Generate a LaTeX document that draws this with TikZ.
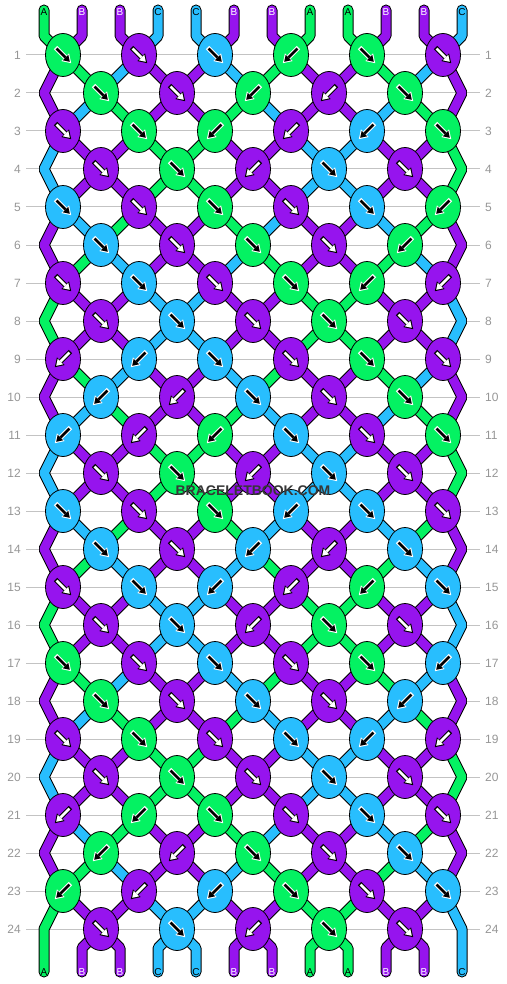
\documentclass[tikz,border=0pt]{standalone}
\usepackage{fontspec}
\setmainfont{Liberation Sans}
\usetikzlibrary{shapes.geometric,arrows.meta}

\definecolor{strA}{RGB}{4,242,98}
\definecolor{strB}{RGB}{150,20,238}
\definecolor{strC}{RGB}{40,190,254}
\colorlet{inkA}{black}\colorlet{inkB}{white}\colorlet{inkC}{black}
\colorlet{rimA}{white}\colorlet{rimB}{black}\colorlet{rimC}{white}
\definecolor{rowgray}{RGB}{150,150,150}
\definecolor{linegray}{RGB}{195,195,195}
\definecolor{markgray}{RGB}{55,55,55}

\pgfdeclarelayer{grid}
\pgfdeclarelayer{strands}
\pgfsetlayers{grid,strands,main}

% colour letter of the string lying at position #1
\newcommand\strcol[1]{\csname st#1\endcsname}
\newcommand\setstr[2]{\expandafter\xdef\csname st#1\endcsname{#2}}

\tikzset{
  knot/.style={ellipse, draw=black, line width=0.8pt, minimum width=35pt,
    minimum height=43pt, inner sep=0pt},
  strand/.style={draw=black, line width=1pt, double=str#1, double distance=9pt,
    line join=bevel, line cap=round},
  arrowrim/.style={draw=rim#1, line width=4.8pt,
    -{Triangle[width=11pt,length=8.5pt,line width=0pt]}},
  arrowink/.style={draw=ink#1, line width=2.6pt,
    -{Triangle[width=7.8pt,length=6pt,line width=0pt]}},
  rowlabel/.style={text=rowgray, font=\fontsize{12}{12}\selectfont, inner sep=0pt},
  endlabel/.style={text=ink#1, font=\fontsize{10}{10}\selectfont, inner sep=0pt},
  watermark/.style={text=markgray, font=\bfseries\fontsize{14}{14}\selectfont, inner sep=0pt}
}

\begin{document}
\begin{tikzpicture}[x=1pt, y=-1pt]
\useasboundingbox (0,0) rectangle (506,984);

% loose ends at the top, in start order
\foreach \col [count=\p from 0] in {A,B,B,C,C,B,B,A,A,B,B,C} {
  \setstr{\p}{\col}
  \coordinate (top-\p) at (44+38*\p,10);
  \coordinate (topbend-\p) at (44+38*\p,36);
  \node[endlabel=\col] (toplab-\p) at (44+38*\p,12.5) {\col};
}

% rows of knots: 0 = forward, 1 = backward
\foreach \row/\dirs in {1/{0,0,0,1,0,0}, 2/{0,0,1,1,0}, 3/{0,0,1,1,1,0}, 4/{0,0,1,0,0},
    5/{0,0,0,0,0,1}, 6/{0,0,0,0,1}, 7/{0,0,0,0,1,1}, 8/{0,0,0,0,0},
    9/{1,1,0,0,0,0}, 10/{1,1,0,0,0}, 11/{1,1,1,0,0,0}, 12/{0,0,1,0,0},
    13/{0,0,0,1,0,0}, 14/{0,0,1,1,0}, 15/{0,0,1,1,1,0}, 16/{0,0,1,0,0},
    17/{0,0,0,0,0,1}, 18/{0,0,0,0,1}, 19/{0,0,0,0,1,1}, 20/{0,0,0,0,0},
    21/{1,1,0,0,0,0}, 22/{1,1,0,0,0}, 23/{1,1,1,0,0,0}, 24/{0,0,1,0,0}} {
  \pgfmathtruncatemacro\ky{17+38*\row}
  \pgfmathtruncatemacro\odd{mod(\row,2)}
  \pgfmathtruncatemacro\prev{\row-1}
  \pgfmathtruncatemacro\pprev{\row-2}
  \begin{pgfonlayer}{grid}
    \draw[linegray, line width=1pt] (26,\ky) -- (480,\ky);
  \end{pgfonlayer}
  \node[rowlabel, anchor=east] (rowl-\row) at (21,\ky) {\row};
  \node[rowlabel, anchor=west] (rowr-\row) at (485,\ky) {\row};
  \ifnum\odd=0
    \coordinate (edgel-\row) at (44,\ky);
    \coordinate (edger-\row) at (462,\ky);
  \fi
  \foreach \dir [count=\j from 0] in \dirs {
    \pgfmathtruncatemacro\lp{2*\j+1-\odd}
    \pgfmathtruncatemacro\rp{\lp+1}
    \pgfmathtruncatemacro\kp{\lp+\dir}
    \pgfmathtruncatemacro\kx{63+76*\j+38*(1-\odd)}
    \pgfmathtruncatemacro\jm{\j-1}
    \pgfmathtruncatemacro\jp{\j+1}
    \pgfmathtruncatemacro\s{1-2*\dir}
    \edef\colL{\strcol{\lp}}\edef\colR{\strcol{\rp}}\edef\colK{\strcol{\kp}}
    \node[knot, fill=str\colK] (k-\row-\j) at (\kx,\ky) {};
    \draw[arrowrim=\colK] ([shift={(-7.4*\s,-7.4)}]k-\row-\j.center)
      -- ([shift={(8.2*\s,8.2)}]k-\row-\j.center);
    \draw[arrowink=\colK] ([shift={(-6.4*\s,-6.4)}]k-\row-\j.center)
      -- ([shift={(6.8*\s,6.8)}]k-\row-\j.center);
    % strings coming into the knot
    \begin{pgfonlayer}{strands}
    \ifnum\row=1
      \draw[strand=\colL] (top-\lp) -- (topbend-\lp) -- (k-\row-\j.center);
      \draw[strand=\colR] (top-\rp) -- (topbend-\rp) -- (k-\row-\j.center);
    \else\ifnum\odd=1
      \ifnum\j=0
        \draw[strand=\colL] (k-\pprev-0.center) -- (edgel-\prev) -- (k-\row-0.center);
      \else
        \draw[strand=\colL] (k-\prev-\jm.center) -- (k-\row-\j.center);
      \fi
      \ifnum\j=5
        \draw[strand=\colR] (k-\pprev-5.center) -- (edger-\prev) -- (k-\row-5.center);
      \else
        \draw[strand=\colR] (k-\prev-\j.center) -- (k-\row-\j.center);
      \fi
    \else
      \draw[strand=\colL] (k-\prev-\j.center) -- (k-\row-\j.center);
      \draw[strand=\colR] (k-\prev-\jp.center) -- (k-\row-\j.center);
    \fi\fi
    \end{pgfonlayer}
    % the two strings change places
    \setstr{\lp}{\colR}\setstr{\rp}{\colL}
  }
}

% loose ends at the bottom
\foreach \p in {0,...,11} {
  \edef\col{\strcol{\p}}
  \coordinate (bot-\p) at (44+38*\p,972);
  \coordinate (botbend-\p) at (44+38*\p,948);
  \pgfmathtruncatemacro\j{(\p-1)/2}
  \begin{pgfonlayer}{strands}
  \ifnum\p=0
    \draw[strand=\col] (k-23-0.center) -- (edgel-24) -- (bot-0);
  \else\ifnum\p=11
    \draw[strand=\col] (k-23-5.center) -- (edger-24) -- (bot-11);
  \else
    \draw[strand=\col] (k-24-\j.center) -- (botbend-\p) -- (bot-\p);
  \fi\fi
  \end{pgfonlayer}
  \node[endlabel=\col] (botlab-\p) at (44+38*\p,972.5) {\col};
}

\node[watermark] (mark) at (253,491) {BRACELETBOOK.COM};
\end{tikzpicture}
\end{document}
